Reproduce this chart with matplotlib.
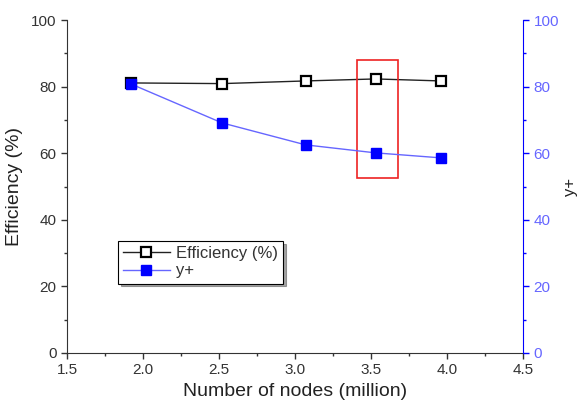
import matplotlib
matplotlib.use("Agg")
import matplotlib.pyplot as plt
from matplotlib.patches import Rectangle
from matplotlib.ticker import MultipleLocator

plt.rcParams['font.family'] = ['Liberation Sans', 'DejaVu Sans']

nodes = [1.92, 2.52, 3.07, 3.53, 3.96]
efficiency = [81.1, 80.9, 81.7, 82.3, 81.7]
yplus = [80.8, 69.1, 62.5, 60.1, 58.6]
xticks = [1.5, 2.0, 2.5, 3.0, 3.5, 4.0, 4.5]
yticks = [0, 20, 40, 60, 80, 100]

fig = plt.figure(figsize=(5.81, 4.07), dpi=100)
ax = fig.add_axes([67/581, 1-353/407, (523-67)/581, (353-20)/407])
ax2 = ax.twinx()

tc = '#333333'
blue = '#0000ff'
lblue = '#6666ff'

l1, = ax.plot(nodes, efficiency, color='#222222', lw=1.0, marker='s', ms=7,
              mfc='white', mec='black', mew=1.6, label='Efficiency (%)', zorder=3)
l2, = ax2.plot(nodes, yplus, color=lblue, lw=1.0, marker='s', ms=7,
               mfc=blue, mec=blue, label='y+', zorder=3)

ax.set_xlim(1.5, 4.5)
ax.set_ylim(0, 100)
ax2.set_ylim(0, 100)
ax.set_xticks(xticks)
ax.set_xticklabels([f'{v:.1f}' for v in xticks])
ax.set_yticks(yticks)
ax2.set_yticks(yticks)
ax.xaxis.set_minor_locator(MultipleLocator(0.25))
ax.yaxis.set_minor_locator(MultipleLocator(10))
ax2.yaxis.set_minor_locator(MultipleLocator(10))

for a in (ax, ax2):
    a.spines['top'].set_visible(False)
ax.spines['right'].set_visible(False)
ax2.spines['left'].set_visible(False)
ax2.spines['bottom'].set_visible(False)
ax.spines['left'].set_color(tc)
ax.spines['bottom'].set_color(tc)
ax2.spines['right'].set_color(blue)

ax.tick_params(axis='both', which='major', direction='out', length=4, colors=tc, labelsize=11, width=1)
ax.tick_params(axis='both', which='minor', direction='out', length=2.5, colors=tc, width=1)
ax2.tick_params(axis='y', which='major', direction='out', length=4, colors=blue, labelsize=11, width=1)
ax2.tick_params(axis='y', which='minor', direction='out', length=2.5, colors=blue, width=1)
for lab in ax2.get_yticklabels():
    lab.set_color(lblue)

ax.set_xlabel('Number of nodes (million)', fontsize=14, color='#222222', labelpad=4)
ax.set_ylabel('Efficiency (%)', fontsize=14, color='#222222', labelpad=6)
ax2.set_ylabel('y+', fontsize=12, color='#222222', labelpad=3)

rect = Rectangle((3.41, 52.5), 0.27, 35.5, fill=False, edgecolor='#ee2222', lw=1.2, zorder=5)
ax.add_patch(rect)

leg = ax.legend([l1, l2], ['Efficiency (%)', 'y+'], loc='upper left',
                bbox_to_anchor=((118-67)/456, (353-241)/333), fontsize=12,
                frameon=True, fancybox=False, shadow=True, edgecolor='black',
                handlelength=2.8, borderpad=0.3, labelspacing=0.15, handletextpad=0.4,
                borderaxespad=0)
leg.get_frame().set_linewidth(0.8)
for t in leg.get_texts():
    t.set_color('#333333')

fig.savefig('out.png', dpi=100)
